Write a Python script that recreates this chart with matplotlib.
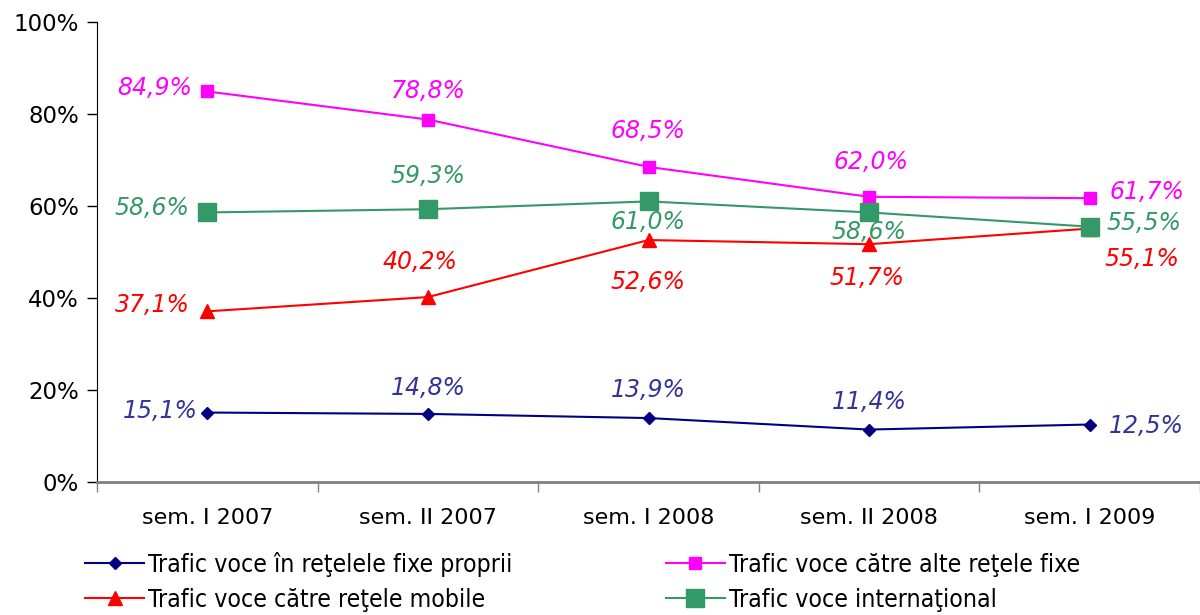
import matplotlib.pyplot as plt
from matplotlib.ticker import FuncFormatter

# categories and series (percent)
periods = ['sem. I 2007', 'sem. II 2007', 'sem. I 2008', 'sem. II 2008', 'sem. I 2009']
fixe_proprii = [15.1, 14.8, 13.9, 11.4, 12.5]
alte_fixe = [84.9, 78.8, 68.5, 62.0, 61.7]
mobile = [37.1, 40.2, 52.6, 51.7, 55.1]
international = [58.6, 59.3, 61.0, 58.6, 55.5]

series_names = ['Trafic voce în reţelele fixe proprii',
                'Trafic voce către alte reţele fixe',
                'Trafic voce către reţele mobile',
                'Trafic voce internaţional']

fig = plt.figure(figsize=(12, 6.15), dpi=100)
ax = fig.add_axes([97 / 1200, 1 - 482 / 615, 1 - 97 / 1200, (482 - 22) / 615])

x = list(range(len(periods)))

l1, = ax.plot(x, fixe_proprii, color='#000080', lw=1.5, marker='D', ms=6.5)
l2, = ax.plot(x, alte_fixe, color='#FF00FF', lw=1.5, marker='s', ms=8)
l3, = ax.plot(x, mobile, color='#FF0000', lw=1.5, marker='^', ms=9.5)
l4, = ax.plot(x, international, color='#339966', lw=1.5, marker='s', ms=12.5)


def fmt(v):
    return ('%.1f%%' % v).replace('.', ',')


# label offsets in pixels for each point (dx, dy)
off_blue = [(-47, 2), (0, 26), (0, 28), (0, 28), (57, -1)]
off_mag = [(-53, 3), (0, 29), (0, 36), (2, 35), (57, 6)]
off_green = [(-55, 4), (0, 33), (0, -21), (0, -20), (54, 4)]
off_red = [(-55, 6), (-8, 35), (0, -42), (-2, -34), (52, -30)]

for vals, offs, col in [(fixe_proprii, off_blue, '#333399'),
                        (alte_fixe, off_mag, '#FF00FF'),
                        (international, off_green, '#339966'),
                        (mobile, off_red, '#FF0000')]:
    for xi, v, (dx, dy) in zip(x, vals, offs):
        ax.annotate(fmt(v), (xi, v), xytext=(dx, dy), textcoords='offset pixels',
                    ha='center', va='center', color=col, fontsize=17,
                    style='italic')

ax.set_xlim(-0.5, 4.5 - 2 / 221)
ax.set_ylim(0, 100)
ax.set_yticks([0, 20, 40, 60, 80, 100])
ax.yaxis.set_major_formatter(FuncFormatter(lambda v, p: '%d%%' % v))
ax.set_xticks(x)
ax.set_xticklabels(periods)
ax.set_xticks([i + 0.5 for i in range(-1, 5)], minor=True)

for s in ['top', 'right']:
    ax.spines[s].set_visible(False)
ax.spines['left'].set_color('black')
ax.spines['bottom'].set_color('#808080')
ax.spines['bottom'].set_linewidth(2)
ax.tick_params(axis='y', labelsize=16.5, length=7, width=1, pad=6)
ax.tick_params(axis='x', which='major', length=0, labelsize=16, pad=19)
ax.tick_params(axis='x', which='minor', length=7, width=1, color='#808080',
               direction='out')

# column-major fill, so order handles to get the reference's row order
leg = fig.legend([l1, l3, l2, l4], [series_names[0], series_names[2],
                                    series_names[1], series_names[3]],
                 ncol=2, loc='upper left',
                 bbox_to_anchor=(85 / 1200, 1 - 552 / 615), frameon=False,
                 prop={'family': 'DejaVu Sans', 'stretch': 'condensed', 'size': 17.8},
                 handlelength=2.4, handletextpad=0.15, columnspacing=6.2,
                 labelspacing=0.45, borderpad=0, borderaxespad=0)

fig.savefig('out.png', dpi=100)
